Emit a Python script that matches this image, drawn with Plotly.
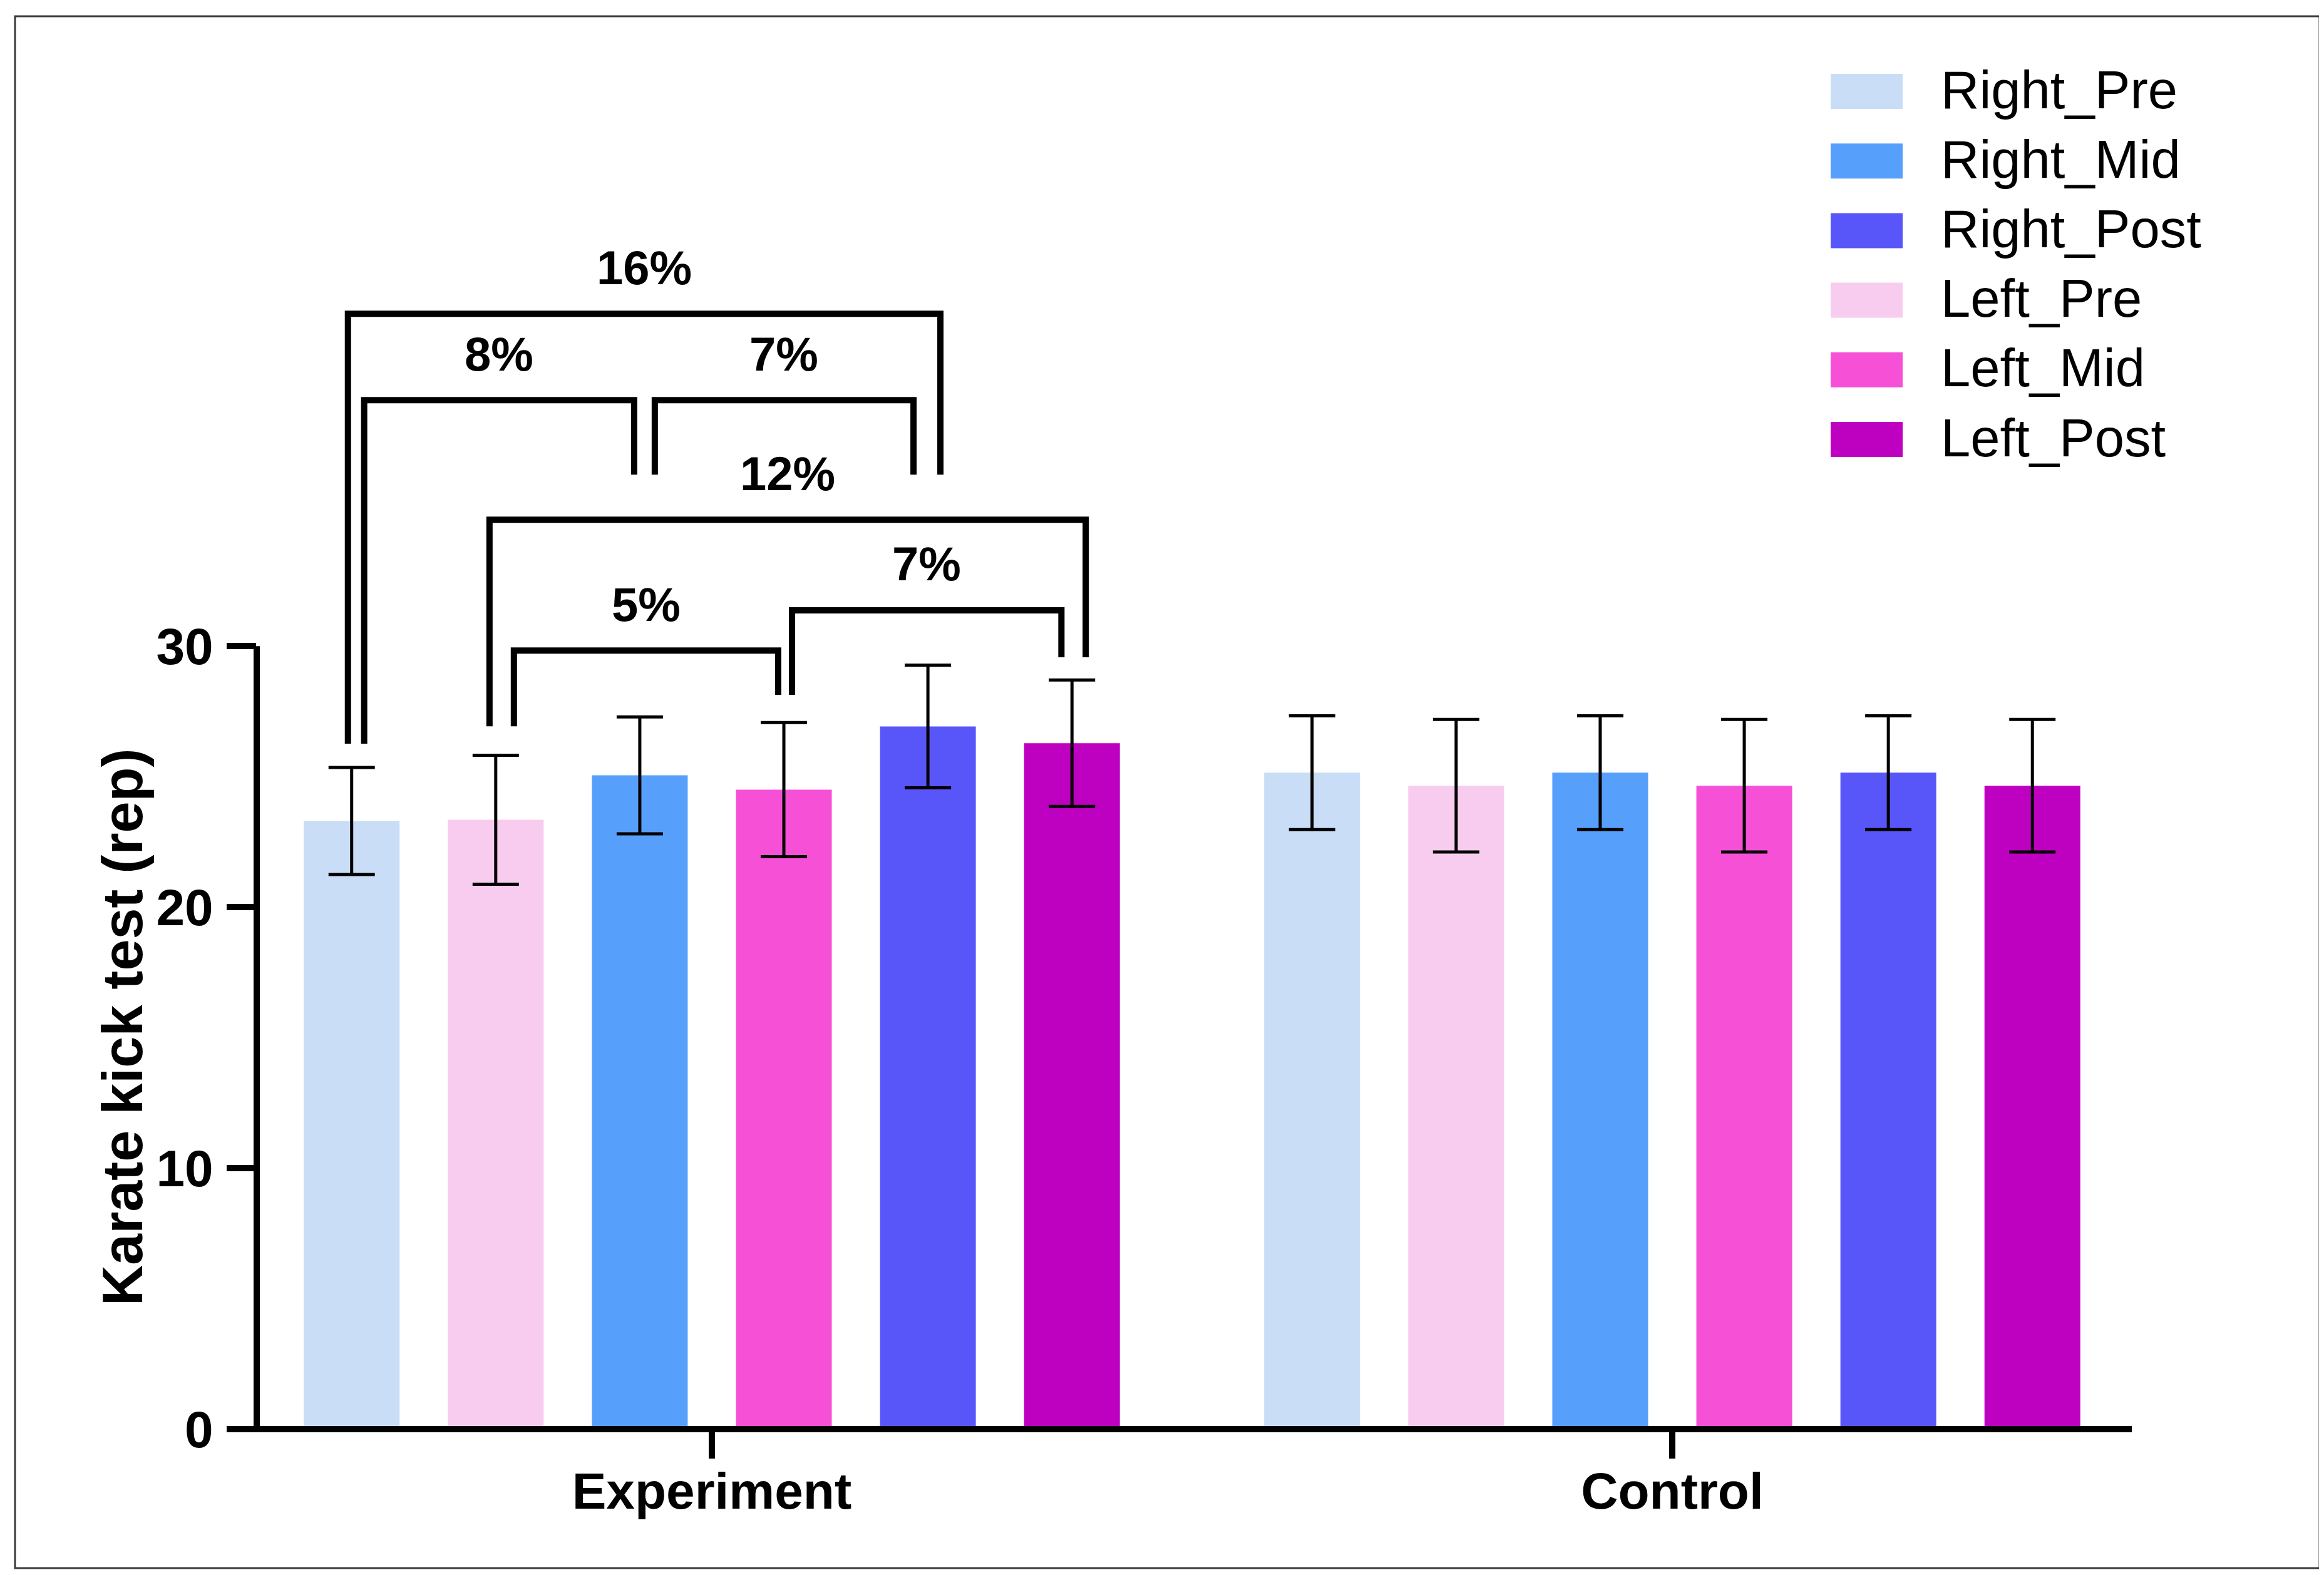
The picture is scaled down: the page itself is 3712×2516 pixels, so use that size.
import plotly.graph_objects as go

# ---------------- data ----------------
groups = ["Experiment", "Control"]
group_pos = [0, 1]
series = ["Right_Pre", "Left_Pre", "Right_Mid", "Left_Mid", "Right_Post", "Left_Post"]
legend_order = ["Right_Pre", "Right_Mid", "Right_Post", "Left_Pre", "Left_Mid", "Left_Post"]
colors = ["#C9DDF7", "#F8CCEF", "#56A0FC", "#F650D6", "#5956F9", "#BE00C0"]

means_experiment = [23.3, 23.35, 25.05, 24.5, 26.92, 26.28]
sd_experiment = [2.05, 2.47, 2.24, 2.57, 2.35, 2.42]
means_control = [25.15, 24.65, 25.15, 24.65, 25.15, 24.65]
sd_control = [2.18, 2.54, 2.18, 2.54, 2.18, 2.54]

y_ticks = [0, 10, 20, 30]
y_title = "Karate kick test (rep)"

# significance brackets (Experiment group, bar indices)
bracket_labels = ["16%", "8%", "7%", "12%", "5%", "7%"]
bracket_from = [0, 0, 2, 1, 1, 3]
bracket_to = [4, 2, 4, 5, 3, 5]
bracket_top = [42.73, 39.42, 39.42, 34.84, 29.83, 31.37]
bracket_left_end = [26.26, 26.26, 36.57, 26.93, 26.93, 28.13]
bracket_right_end = [36.57, 36.57, 36.57, 29.57, 28.13, 29.57]
bracket_left_shift = [-0.0039, 0.013, 0.0156, -0.0065, 0.0189, 0.0085]
bracket_right_shift = [0.013, -0.0059, -0.015, 0.0143, -0.0059, -0.011]

# ---------------- layout geometry ----------------
W, H = 3712, 2516
L, R, T, B = 402, 315, 357, 241
PW, PH = W - L - R, H - T - B
Y_MAX = 46
X_RANGE = [-0.4739, 1.4785]
BARGAP = 0.1
BARGROUPGAP = 0.335
slot = (1 - BARGAP) / len(series)

def px_x(px):
    return (px - L) / PW

def px_y(py):
    return (H - B - py) / PH

FONT = "Liberation Sans, Arial, sans-serif"
NARROW = "Liberation Sans Narrow, Arial Narrow, Liberation Sans, Arial, sans-serif"

fig = go.Figure()
for i, name in enumerate(series):
    fig.add_trace(go.Bar(
        name=name,
        x=group_pos,
        y=[means_experiment[i], means_control[i]],
        marker=dict(color=colors[i], line=dict(width=0)),
        error_y=dict(type="data", array=[sd_experiment[i], sd_control[i]],
                     color="black", thickness=5, width=37),
        showlegend=False,
    ))

shapes = []
annotations = []

# axis lines
shapes.append(dict(type="line", xref="paper", yref="paper",
                   x0=0, x1=0, y0=0, y1=30 / Y_MAX,
                   line=dict(color="black", width=10)))
shapes.append(dict(type="line", xref="paper", yref="paper",
                   x0=px_x(355), x1=1, y0=0, y1=0,
                   line=dict(color="black", width=10)))

# brackets
def bar_x(g, i):
    return group_pos[g] + (i - (len(series) - 1) / 2) * slot

for k, lab in enumerate(bracket_labels):
    xl = bar_x(0, bracket_from[k]) + bracket_left_shift[k]
    xr = bar_x(0, bracket_to[k]) + bracket_right_shift[k]
    path = (f"M {xl},{bracket_left_end[k]} L {xl},{bracket_top[k]} "
            f"L {xr},{bracket_top[k]} L {xr},{bracket_right_end[k]}")
    shapes.append(dict(type="path", xref="x", yref="y", path=path,
                       line=dict(color="black", width=10)))
    annotations.append(dict(x=(xl + xr) / 2, y=bracket_top[k] + 1.78,
                            xref="x", yref="y", text=lab, showarrow=False,
                            xanchor="center", yanchor="middle",
                            font=dict(family=NARROW, size=76, color="black",
                                      weight="bold")))

# y-axis title
annotations.append(dict(x=px_x(188), y=15.4 / Y_MAX, xref="paper", yref="paper",
                        text=y_title, textangle=-90, showarrow=False,
                        xanchor="center", yanchor="middle",
                        font=dict(family=FONT, size=90, color="black", weight="bold")))

# legend (drawn manually to match swatch size)
row0, row_step = 138, 111.2
for r, name in enumerate(legend_order):
    c = colors[series.index(name)]
    cy = row0 + r * row_step
    shapes.append(dict(type="rect", xref="paper", yref="paper",
                       x0=px_x(2916), x1=px_x(3031),
                       y0=px_y(cy - 28), y1=px_y(cy + 28),
                       fillcolor=c, line=dict(width=0)))
    annotations.append(dict(x=px_x(3090), y=px_y(cy - 3), xref="paper", yref="paper",
                            text=name, showarrow=False, xanchor="left",
                            yanchor="middle",
                            font=dict(family=FONT, size=85, color="black")))

# outer frame
shapes.append(dict(type="rect", xref="paper", yref="paper",
                   x0=px_x(16), x1=px_x(3697), y0=px_y(2497), y1=px_y(18),
                   line=dict(color="#3a3a3a", width=3), fillcolor="rgba(0,0,0,0)"))

fig.update_layout(
    width=W, height=H,
    margin=dict(l=L, r=R, t=T, b=B, autoexpand=False),
    paper_bgcolor="white", plot_bgcolor="white",
    barmode="group", bargap=BARGAP, bargroupgap=BARGROUPGAP,
    showlegend=False,
    shapes=shapes, annotations=annotations,
    xaxis=dict(range=X_RANGE, tickvals=group_pos, ticktext=groups,
               showgrid=False, zeroline=False, showline=False,
               ticks="outside", ticklen=46, tickwidth=10, tickcolor="black",
               ticklabelstandoff=-18,
               tickfont=dict(family=FONT, size=82, color="black", weight="bold")),
    yaxis=dict(range=[0, Y_MAX], tickvals=y_ticks,
               showgrid=False, zeroline=False, showline=False,
               ticks="outside", ticklen=47, tickwidth=10, tickcolor="black",
               ticklabelstandoff=5,
               tickfont=dict(family=FONT, size=82, color="black", weight="bold")),
)

fig.write_html("out.html")
